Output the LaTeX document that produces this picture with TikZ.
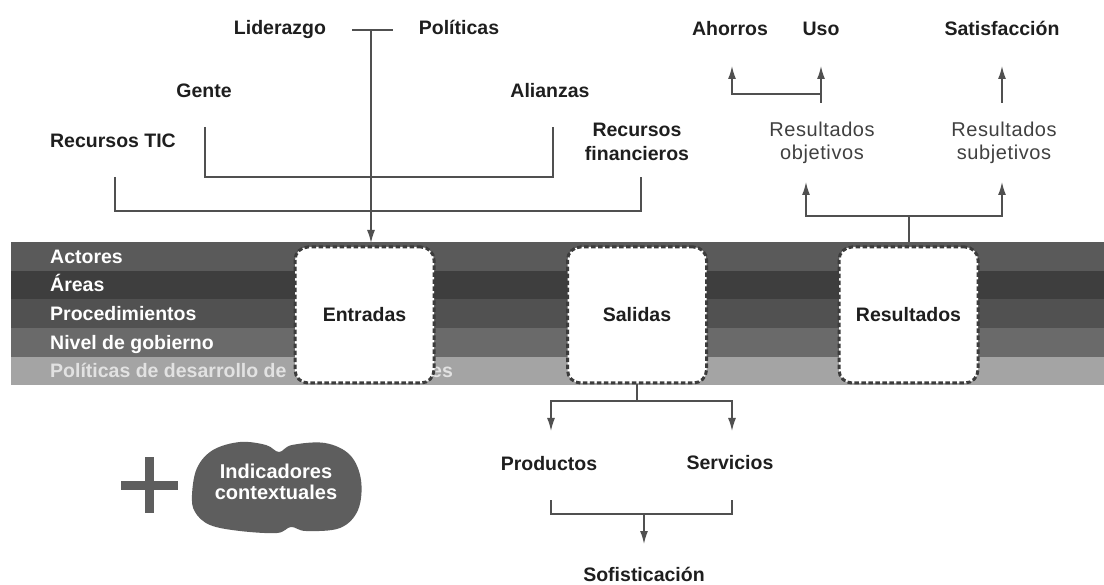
\documentclass[tikz,border=0pt]{standalone}
\usepackage{fontspec}
\setmainfont{Liberation Sans}
\usetikzlibrary{arrows.meta}
\definecolor{ln}{HTML}{505050}
\definecolor{txt}{HTML}{1E1E1E}
\definecolor{cA}{HTML}{5A5A5A}
\definecolor{cB}{HTML}{3E3E3E}
\definecolor{cC}{HTML}{515151}
\definecolor{cD}{HTML}{6A6A6A}
\definecolor{cE}{HTML}{A4A4A4}
\definecolor{cloudc}{HTML}{5E5E5E}
\definecolor{boxedge}{HTML}{3C3C3C}
\definecolor{paletxt}{HTML}{E2E2E2}
\begin{document}
\begin{tikzpicture}[x=1pt,y=-1pt,
  lbl/.style={font=\bfseries\fontsize{19.5}{24}\selectfont, text=txt, inner sep=0pt, anchor=base},
  mlbl/.style={font=\bfseries\fontsize{19.5}{24}\selectfont, text=txt, inner sep=0pt, anchor=north, align=center},
  rlbl/.style={font=\fontsize{20}{23}\selectfont\addfontfeature{LetterSpace=3}, text=txt!85, inner sep=0pt, anchor=north, align=center},
  bandlbl/.style={font=\bfseries\fontsize{19.5}{24}\selectfont, text=white, inner sep=0pt, anchor=base west},
  conn/.style={draw=ln, line width=1.5pt},
  arr/.style={conn, -{Latex[length=13pt,width=8pt]}},
  stagebox/.style={draw=boxedge, fill=white, line width=3pt, dash pattern=on 4.5pt off 2.5pt,
     rounded corners=13pt, minimum width=139pt, minimum height=136pt, inner sep=0pt,
     font=\bfseries\fontsize{19.5}{24}\selectfont, text=txt}
]
\useasboundingbox (0,0) rectangle (1104,585);

% ---- band ----
\fill[cA] (11,242) rectangle (1104,271);
\fill[cB] (11,271) rectangle (1104,299);
\fill[cC] (11,299) rectangle (1104,328);
\fill[cD] (11,328) rectangle (1104,357);
\fill[cE] (11,357) rectangle (1104,385);
\node[bandlbl] (b1) at (50,263.5) {Actores};
\node[bandlbl] (b2) at (50,292) {Áreas};
\node[bandlbl] (b3) at (50,320.5) {Procedimientos};
\node[bandlbl] (b4) at (50,349.5) {Nivel de gobierno};
\node[bandlbl, text=paletxt] (b5) at (50,378) {Políticas de desarrollo de};
\node[bandlbl, text=paletxt] (b5b) at (431,378) {es};

% ---- stage boxes ----
\node[stagebox] (ent) at (364.5,315) {Entradas};
\node[stagebox] (sal) at (637,315) {Salidas};
\node[stagebox] (res) at (908.5,315) {Resultados};

% ---- top-left inputs ----
\node[lbl] (lid) at (280,35) {Liderazgo};
\node[lbl] (pol) at (459,35) {Políticas};
\node[lbl] (gen) at (204,98) {Gente};
\node[lbl] (ali) at (550,98) {Alianzas};
\node[lbl] (rtic) at (113,148) {Recursos TIC};
\node[mlbl] (rfin) at (637,123) {Recursos\\financieros};

\coordinate (barL) at (352,30);
\coordinate (barR) at (393,30);
\coordinate (barC) at (371,30);
\coordinate (entIn) at (371,243);
\coordinate (genE) at (205,127);
\coordinate (aliE) at (553,127);
\coordinate (inJL) at (205,177);
\coordinate (inJR) at (553,177);
\coordinate (ticE) at (115,177);
\coordinate (finE) at (641,177);
\coordinate (outJ) at (641,211);

\draw[conn] (barL) -- (barR);
\draw[arr] (barC) -- (entIn);
\draw[conn] (genE) -- (inJL) -- (inJR) -- (aliE);
\draw[conn] (ticE) |- (outJ) -- (finE);

% ---- top-right results ----
\node[lbl] (aho) at (730,36) {Ahorros};
\node[lbl] (uso) at (821,36) {Uso};
\node[lbl] (sat) at (1002,36) {Satisfacción};
\node[rlbl] (robj) at (822,122) {Resultados\\objetivos};
\node[rlbl] (rsub) at (1004,122) {Resultados\\subjetivos};

\coordinate (resOut) at (909,242);
\coordinate (resJ) at (909,216);
\coordinate (robjIn) at (806,182);
\coordinate (rsubIn) at (1002,182);
\coordinate (robjOut) at (821,103);
\coordinate (robjJ) at (821,94);
\coordinate (usoIn) at (821,66);
\coordinate (ahoIn) at (732,66);
\coordinate (rsubOut) at (1002,103);
\coordinate (satIn) at (1002,66);

\draw[conn] (resOut) -- (resJ);
\draw[arr] (resJ) -| (robjIn);
\draw[arr] (resJ) -| (rsubIn);
\draw[arr] (robjOut) -- (usoIn);
\draw[arr] (robjJ) -| (ahoIn);
\draw[arr] (rsubOut) -- (satIn);

% ---- bottom outputs ----
\node[lbl] (prod) at (549,471) {Productos};
\node[lbl] (serv) at (730,469) {Servicios};
\node[lbl] (sof) at (644,581) {Sofisticación};

\coordinate (salOut) at (637,384);
\coordinate (salJ) at (637,401);
\coordinate (prodIn) at (551,431);
\coordinate (servIn) at (732,431);
\coordinate (prodOut) at (551,500);
\coordinate (servOut) at (732,500);
\coordinate (pbL) at (551,514);
\coordinate (pbR) at (732,514);
\coordinate (pbC) at (644,514);
\coordinate (sofIn) at (644,544);

\draw[conn] (salOut) -- (salJ);
\draw[arr] (salJ) -| (prodIn);
\draw[arr] (salJ) -| (servIn);
\draw[conn] (prodOut) -- (pbL) -- (pbR) -- (servOut);
\draw[arr] (pbC) -- (sofIn);

% ---- plus and cloud ----
\fill[cloudc] (121,480.5) rectangle (178,489.5);
\fill[cloudc] (144.5,457) rectangle (153.5,513);
\fill[cloudc] plot[smooth cycle, tension=0.6] coordinates {
  (192,495) (197,468) (213,450) (240,442) (266,445) (279,452) (292,445)
  (325,443) (350,455) (361,480) (358,510) (340,528) (306,531) (291,527)
  (277,533) (240,531) (210,525) (195,512)};
\node[font=\bfseries\fontsize{20}{21}\selectfont, text=white, align=center, inner sep=0pt, anchor=north]
  (cloudtxt) at (276,464) {Indicadores\\contextuales};
\end{tikzpicture}
\end{document}
